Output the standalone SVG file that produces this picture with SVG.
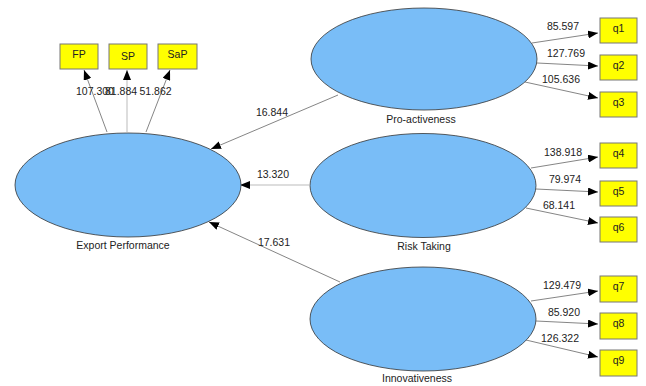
<svg xmlns="http://www.w3.org/2000/svg" width="646" height="386" viewBox="0 0 646 386">
  <defs>
    <marker id="arrow" markerUnits="userSpaceOnUse" markerWidth="10" markerHeight="8" refX="10" refY="4" orient="auto">
      <path d="M0,0 L10,4 L0,8 z" fill="#000"/>
    </marker>
    <style>
      text { font-family: "Liberation Sans", Arial, sans-serif; font-size: 10.5px; fill: #222; }
      .lv { fill: #79bdf7; stroke: #333; stroke-width: 0.8; }
      .mv { fill: #ffff00; stroke: #777; stroke-width: 1; }
      .c { stroke: #666; stroke-width: 0.8; fill: none; marker-end: url(#arrow); }
      .cl { stroke: #bbb; stroke-width: 1; fill: none; marker-end: url(#arrow); }
      .mid { text-anchor: middle; }
    </style>
  </defs>
  <rect width="646" height="386" fill="#fff"/>

  <!-- connectors -->
  <g id="connectors">
    <!-- structural paths -->
    <line class="c" x1="338" y1="95" x2="211" y2="149"/>
    <line class="cl" x1="309" y1="185" x2="240" y2="185"/>
    <line class="c" x1="340" y1="282" x2="209" y2="222"/>
    <!-- Export Performance indicators -->
    <line class="c" x1="107" y1="132" x2="84" y2="70"/>
    <line class="cl" x1="127" y1="132" x2="127" y2="70"/>
    <line class="c" x1="146" y1="132" x2="170" y2="70"/>
    <!-- Pro-activeness indicators -->
    <line class="c" x1="532" y1="43" x2="598" y2="33"/>
    <line class="c" x1="537" y1="63" x2="598" y2="66"/>
    <line class="c" x1="525" y1="82" x2="598" y2="98"/>
    <!-- Risk Taking indicators -->
    <line class="c" x1="531" y1="168" x2="598" y2="157"/>
    <line class="c" x1="536" y1="189" x2="598" y2="192"/>
    <line class="c" x1="526" y1="208" x2="598" y2="223"/>
    <!-- Innovativeness indicators -->
    <line class="c" x1="531" y1="301" x2="598" y2="291"/>
    <line class="c" x1="536" y1="321" x2="598" y2="324"/>
    <line class="c" x1="526" y1="340" x2="598" y2="357"/>

    <!-- path coefficients -->
    <text x="272" y="116" class="mid">16.844</text>
    <text x="273" y="178" class="mid">13.320</text>
    <text x="274" y="246" class="mid">17.631</text>
    <text x="76" y="95">107.300</text>
    <text x="105" y="95">81.884</text>
    <text x="139.5" y="95">51.862</text>
    <text x="563" y="30" class="mid">85.597</text>
    <text x="566" y="57" class="mid">127.769</text>
    <text x="561" y="83" class="mid">105.636</text>
    <text x="563" y="156" class="mid">138.918</text>
    <text x="565" y="183" class="mid">79.974</text>
    <text x="559" y="209" class="mid">68.141</text>
    <text x="562" y="289" class="mid">129.479</text>
    <text x="564" y="316" class="mid">85.920</text>
    <text x="560" y="342" class="mid">126.322</text>
  </g>

  <!-- latent variables -->
  <g id="export-performance">
    <ellipse class="lv" cx="128" cy="185" rx="113" ry="52"/>
    <text x="123" y="249" class="mid">Export Performance</text>
  </g>
  <g id="pro-activeness">
    <ellipse class="lv" cx="424" cy="59" rx="113" ry="51"/>
    <text x="421" y="123" class="mid">Pro-activeness</text>
  </g>
  <g id="risk-taking">
    <ellipse class="lv" cx="423" cy="185.5" rx="113" ry="52"/>
    <text x="424" y="250" class="mid">Risk Taking</text>
  </g>
  <g id="innovativeness">
    <ellipse class="lv" cx="423" cy="319" rx="113" ry="52"/>
    <text x="417" y="382" class="mid">Innovativeness</text>
  </g>

  <!-- indicators -->
  <g id="FP"><rect class="mv" x="60" y="44" width="38" height="25"/><text x="79" y="58" class="mid">FP</text></g>
  <g id="SP"><rect class="mv" x="109" y="44" width="38" height="25"/><text x="128" y="60" class="mid">SP</text></g>
  <g id="SaP"><rect class="mv" x="158" y="44" width="39" height="25"/><text x="177.5" y="58" class="mid">SaP</text></g>

  <g id="q1"><rect class="mv" x="600" y="18" width="37" height="25"/><text x="618.5" y="32" class="mid">q1</text></g>
  <g id="q2"><rect class="mv" x="600" y="55" width="37" height="25"/><text x="618.5" y="69" class="mid">q2</text></g>
  <g id="q3"><rect class="mv" x="600" y="92" width="37" height="25"/><text x="618.5" y="106" class="mid">q3</text></g>
  <g id="q4"><rect class="mv" x="600" y="143" width="37" height="25"/><text x="618.5" y="157" class="mid">q4</text></g>
  <g id="q5"><rect class="mv" x="600" y="181" width="37" height="25"/><text x="618.5" y="195" class="mid">q5</text></g>
  <g id="q6"><rect class="mv" x="600" y="217" width="37" height="25"/><text x="618.5" y="231" class="mid">q6</text></g>
  <g id="q7"><rect class="mv" x="600" y="276" width="37" height="26"/><text x="618.5" y="290" class="mid">q7</text></g>
  <g id="q8"><rect class="mv" x="600" y="313" width="37" height="26"/><text x="618.5" y="327" class="mid">q8</text></g>
  <g id="q9"><rect class="mv" x="600" y="350" width="37" height="26"/><text x="618.5" y="364" class="mid">q9</text></g>
</svg>
